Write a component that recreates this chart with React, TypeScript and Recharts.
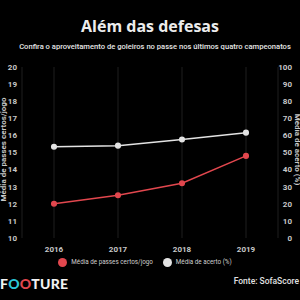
import React from 'react';
import { LineChart, Line, XAxis, YAxis, CartesianGrid, Legend } from 'recharts';

const years = ['2016', '2017', '2018', '2019'];
const passesCertos = [12.0, 12.5, 13.2, 14.8];
const acerto = [53.4, 54.0, 57.6, 61.6];
const leftTicks = [10, 11, 12, 13, 14, 15, 16, 17, 18, 19, 20];
const rightTicks = [0, 10, 20, 30, 40, 50, 60, 70, 80, 90, 100];

const data = years.map((year, i) => ({
    year,
    mediaPasses: passesCertos[i],
    taxaAcerto: acerto[i],
}));

const RED = '#e2474e';
const WHITE = '#e3e3e3';
const tickStyle = { fill: '#c8c8c8', fontSize: 8, fontWeight: 700, fontFamily: 'Roboto' };

export default function App() {
    return (
        <div style={{ position: 'absolute', left: 0, top: 0, width: 300, height: 300, background: '#000', overflow: 'hidden', fontFamily: 'Roboto' }}>
            <div style={{ position: 'absolute', top: 15, width: 300, textAlign: 'center', color: '#ececec', fontSize: 16, fontWeight: 700, fontFamily: 'Open Sans' }}>
                Além das defesas
            </div>
            <div style={{ position: 'absolute', top: 42, width: 300, left: 5, textAlign: 'center', color: '#e6e6e6', fontSize: 7.6, fontWeight: 500 }}>
                Confira o aproveitamento de goleiros no passe nos últimos quatro campeonatos
            </div>
            <div style={{ position: 'absolute', left: -57, top: 145, width: 120, textAlign: 'center', transform: 'rotate(-90deg)', color: '#c8c8c8', fontSize: 8, fontWeight: 700 }}>
                Média de passes certos/jogo
            </div>
            <div style={{ position: 'absolute', left: 237, top: 145, width: 120, textAlign: 'center', transform: 'rotate(90deg)', color: '#c8c8c8', fontSize: 8, fontWeight: 700 }}>
                Média de acerto (%)
            </div>
            <LineChart width={300} height={300} data={data} margin={{ top: 67, right: 0, bottom: 33, left: 0 }}>
                <CartesianGrid horizontal={false} stroke="#1e1e1e" strokeWidth={1} />
                <XAxis dataKey="year" axisLine={false} tickLine={false} height={20} padding={{ left: 32, right: 32 }} tick={tickStyle} />
                <YAxis yAxisId="left" domain={[10, 20]} ticks={leftTicks} axisLine={false} tickLine={false} width={22} tick={{ ...tickStyle, dx: 3 }} />
                <YAxis yAxisId="right" orientation="right" domain={[0, 100]} ticks={rightTicks} axisLine={false} tickLine={false} width={22} tick={{ ...tickStyle, textAnchor: 'end', dx: 6 }} />
                <Legend
                    verticalAlign="bottom"
                    iconType="circle"
                    iconSize={9}
                    itemSorter="dataKey"
                    wrapperStyle={{ fontSize: 6.3, fontWeight: 400 }}
                    formatter={(value) => <span style={{ color: '#cfcfcf' }}>{value}</span>}
                />
                <Line yAxisId="left" dataKey="mediaPasses" name="Média de passes certos/jogo" stroke={RED} strokeWidth={1.5} dot={{ r: 2.3, fill: RED, stroke: RED }} isAnimationActive={false} />
                <Line yAxisId="right" dataKey="taxaAcerto" name="Média de acerto (%)" stroke={WHITE} strokeWidth={1.5} dot={{ r: 2.3, fill: WHITE, stroke: WHITE }} isAnimationActive={false} />
            </LineChart>
            <div style={{ position: 'absolute', left: 0, top: 275, color: '#f2f2f2', fontSize: 14, fontWeight: 900, fontFamily: 'Lato', letterSpacing: 0.3 }}>
                F<span style={{ color: '#2cc7d6' }}>O</span><span style={{ color: RED }}>O</span>TURE
            </div>
            <div style={{ position: 'absolute', right: 1, top: 276, color: '#e0e0e0', fontSize: 8.5, fontWeight: 500 }}>
                Fonte: SofaScore
            </div>
        </div>
    );
}
